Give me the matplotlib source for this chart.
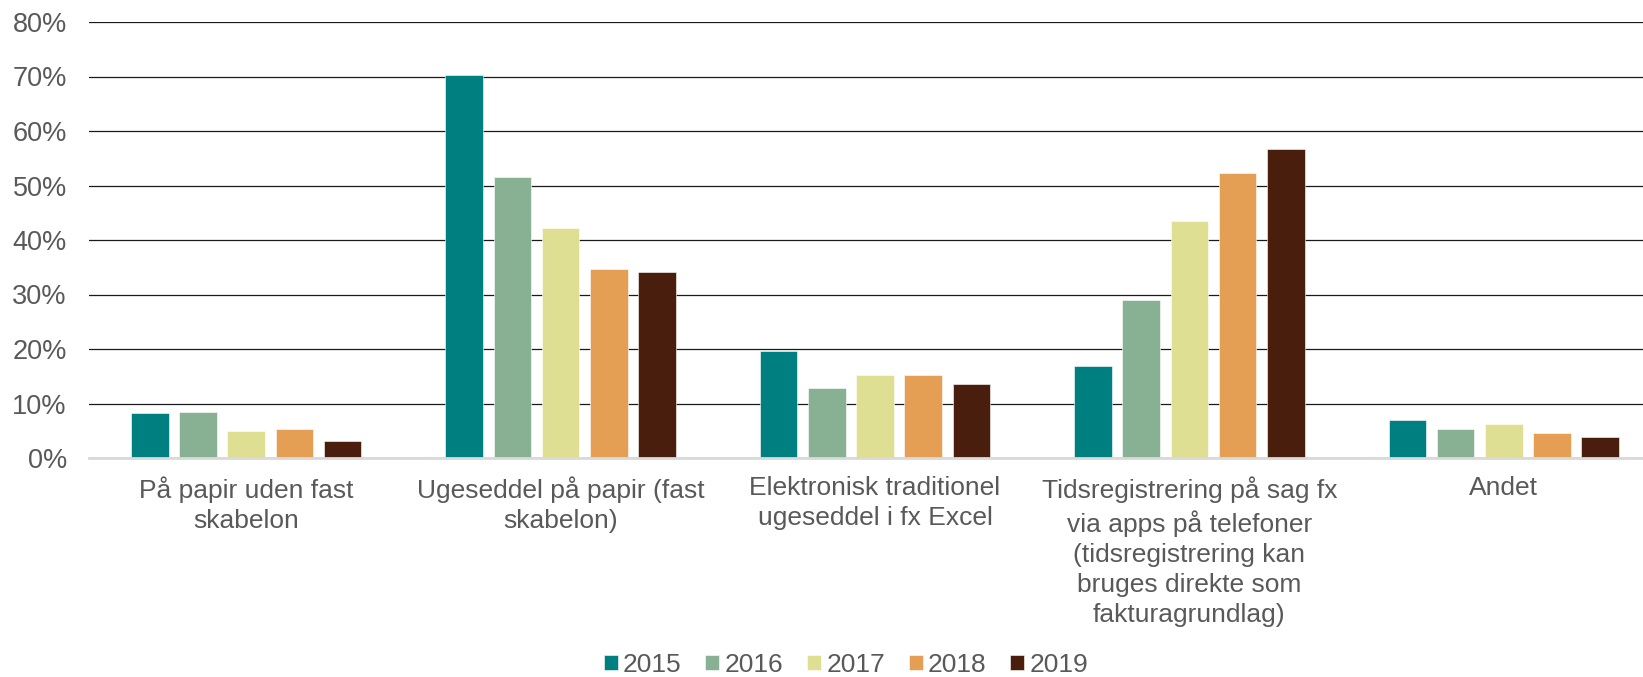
import matplotlib
matplotlib.use("Agg")
import matplotlib.pyplot as plt
import numpy as np
from matplotlib.ticker import FuncFormatter

plt.rcParams['font.family'] = ['Liberation Sans', 'DejaVu Sans']

categories = [
    "På papir uden fast\nskabelon",
    "Ugeseddel på papir (fast\nskabelon)",
    "Elektronisk traditionel\nugeseddel i fx Excel",
    "Tidsregistrering på sag fx\nvia apps på telefoner\n(tidsregistrering kan\nbruges direkte som\nfakturagrundlag)",
    "Andet",
]
years = ["2015", "2016", "2017", "2018", "2019"]
v2015 = [8.3, 70.3, 19.6, 16.9, 6.9]
v2016 = [8.5, 51.5, 12.8, 28.9, 5.3]
v2017 = [5.0, 42.2, 15.3, 43.5, 6.3]
v2018 = [5.3, 34.6, 15.3, 52.3, 4.5]
v2019 = [3.1, 34.1, 13.5, 56.7, 3.8]
series = [v2015, v2016, v2017, v2018, v2019]
colors = ["#007F80", "#88B093", "#DEDF93", "#E49F55", "#4A1E0C"]

W, H = 1643, 677
fig = plt.figure(figsize=(W / 100, H / 100), dpi=100)
ax = fig.add_axes([89 / W, (677 - 458) / H, 1572 / W, 436 / H])

x = np.arange(len(categories))
bw = 0.12
step = 0.1533
for i, (vals, col, yr) in enumerate(zip(series, colors, years)):
    ax.bar(x + (i - 2) * step, vals, width=bw, color=col, label=yr, zorder=3,
           edgecolor='white', linewidth=0.4)

ax.set_xlim(-0.5, len(categories) - 0.5)
ax.set_ylim(0, 80)
ax.set_yticks(np.arange(0, 81, 10))
ax.yaxis.set_major_formatter(FuncFormatter(lambda v, p: f"{int(v)}%"))
ax.grid(axis='y', color='#1a1a1a', linewidth=0.9, zorder=0)
for s in ['top', 'right', 'left']:
    ax.spines[s].set_visible(False)
ax.spines['bottom'].set_color('#d9d9d9')
ax.spines['bottom'].set_linewidth(2)
ax.spines['bottom'].set_zorder(4)
ax.tick_params(axis='y', length=0, pad=16, labelsize=19.5, labelcolor='#595959')
ax.tick_params(axis='x', length=0, pad=13, labelsize=19, labelcolor='#595959')
ax.set_xticks(x)
ax.set_xticklabels(categories, linespacing=1.33, va='top')

handles, labels = ax.get_legend_handles_labels()
fig.legend(handles, labels, loc='center', bbox_to_anchor=(0.515, (677 - 665) / H),
           ncol=5, frameon=False, fontsize=19, labelcolor='#595959',
           handlelength=0.53, handleheight=0.53, handletextpad=0.2, columnspacing=0.9,
           borderpad=0, borderaxespad=0)

fig.savefig("out.png", dpi=100)
